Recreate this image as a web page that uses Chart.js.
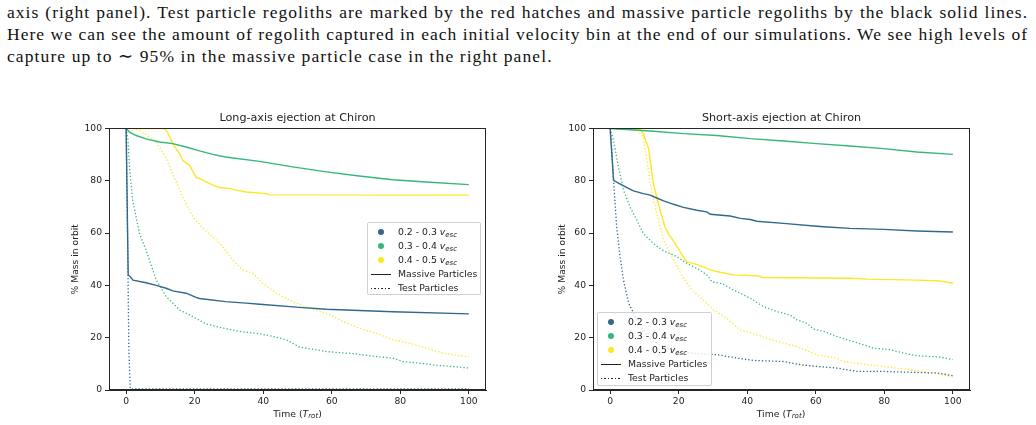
<!DOCTYPE html>
<html>
<head>
<meta charset="utf-8">
<script src="https://cdn.jsdelivr.net/npm/chart.js@4/dist/chart.umd.min.js"></script>
<style>
  html, body { margin: 0; padding: 0; background: #fff; }
  body { width: 1036px; height: 425px; position: relative; overflow: hidden; }
  .cap { position: absolute; left: 7px; width: 1021px; font-family: "Liberation Serif", serif; font-size: 17.5px; letter-spacing: 1.1px; line-height: 22px; color: #111; white-space: nowrap; }
  .just { text-align: justify; text-align-last: justify; white-space: normal; letter-spacing: 1.0px; }
  .panel { position: absolute; }
  .legend { position: absolute; box-sizing: border-box; border: 1px solid #d0d0d0; border-radius: 2px; background: rgba(255,255,255,0.8); font-family: "DejaVu Sans", sans-serif; font-size: 9.3px; color: #222; }
  .row { position: absolute; left: 0; height: 14px; width: 100%; }
  .dot { position: absolute; left: 9.5px; top: 3.7px; width: 6.6px; height: 6.6px; border-radius: 50%; }
  .ln { position: absolute; left: 3px; top: 6.5px; width: 20px; height: 1.4px; background: #222; }
  .ln.dotted { background: repeating-linear-gradient(to right, #222 0px, #222 1.4px, transparent 1.4px, transparent 3.5px); }
  .lt { position: absolute; left: 30px; top: 0; line-height: 14px; }
  sub { font-size: 0.75em; vertical-align: -0.25em; line-height: 0; }
  .xt { position: absolute; font-family: "DejaVu Sans", sans-serif; font-size: 9.3px; color: #222; transform: translate(-50%, -50%); white-space: nowrap; }
</style>
</head>
<body>
<div class="cap just" style="top:1px;">axis (right panel). Test particle regoliths are marked by the red hatches and massive particle regoliths by the black solid lines.</div>
<div class="cap just" style="top:23px;">Here we can see the amount of regolith captured in each initial velocity bin at the end of our simulations. We see high levels of</div>
<div class="cap" style="top:45px;">capture up to ∼ 95% in the massive particle case in the right panel.</div>

<div class="panel" style="left:60px; top:100px;"><canvas id="cLong" width="440" height="325"></canvas></div>
<div class="panel" style="left:544px; top:100px;"><canvas id="cShort" width="440" height="325"></canvas></div>

<div class="xt" style="left:297.5px; top:413px;">Time (<i>T</i><sub><i>rot</i></sub>)</div>
<div class="xt" style="left:781px; top:413px;">Time (<i>T</i><sub><i>rot</i></sub>)</div>

<div id="legLong" class="legend" style="left:367px; top:222px; width:114px; height:73px;"></div>
<div id="legShort" class="legend" style="left:597px; top:312px; width:115px; height:74px;"></div>

<script>
// ---------- tick labels ----------
const xTickValues = [0, 20, 40, 60, 80, 100];
const yTickValues = [0, 20, 40, 60, 80, 100];

// ---------- categories ----------
const binLabels = ['0.2 - 0.3', '0.3 - 0.4', '0.4 - 0.5'];
const binColors = ['#31688e', '#35b779', '#fde725'];
const styleLabels = ['Massive Particles', 'Test Particles'];

// ---------- Long-axis ejection ----------
const longBlueMassT = [0, 0.6, 1.2, 2, 5.8, 8.8, 11.7, 13.6, 17.5, 20.4, 21.4, 29, 35, 39, 50.6, 58.4, 68, 77.8, 100];
const longBlueMassY = [100, 44, 43.3, 42, 41, 40, 38.9, 37.9, 37, 35.4, 35, 33.8, 33.2, 32.8, 31.6, 30.9, 30.4, 29.9, 29.1];
const longBlueTestT = [0, 0.4, 0.8, 1.2, 2, 100];
const longBlueTestY = [100, 60, 15, 0.5, 0.4, 0.4];
const longGreenMassT = [0, 1, 2.9, 5.8, 9.7, 13.6, 17.5, 21.4, 25.3, 29, 38.9, 48.6, 58.4, 68, 77.8, 87.5, 100];
const longGreenMassY = [100, 98.6, 97.3, 96, 94.8, 94.2, 92.9, 91.4, 90.1, 89.1, 87.4, 85.3, 83.4, 81.8, 80.4, 79.5, 78.5];
const longGreenTestT = [0, 0.5, 1, 1.9, 3.9, 5.8, 8.8, 11.7, 15.6, 19.5, 23.3, 27.2, 33, 39, 43.8, 46.7, 50.6, 58.4, 66.1, 73, 77.8, 80.7, 87.5, 90.5, 95.3, 100];
const longGreenTestY = [100, 96, 85, 72.6, 59.8, 53.5, 42, 35.7, 30.6, 28, 25.3, 24, 22.4, 21.5, 20.2, 19.2, 16.4, 14.7, 13.9, 12.8, 12.2, 10.9, 10, 9.4, 9, 8.4];
const longYellowMassT = [0, 10.5, 11.7, 13.6, 15.6, 16.5, 18.5, 20.4, 22.4, 25.3, 27.2, 30.2, 32, 35, 40.9, 41.8, 100];
const longYellowMassY = [100, 100, 99.5, 94.2, 90.3, 87.8, 85.9, 81.4, 80.2, 78.3, 77.4, 77, 76.4, 75.7, 75.1, 74.6, 74.5];
const longYellowTestT = [0, 2, 3.9, 7.8, 9.7, 11.7, 13.6, 16.5, 19.5, 22.4, 25.3, 28.2, 31.1, 34, 37, 39.9, 43.8, 48.6, 53.5, 58.4, 63.2, 68, 73, 77.8, 82.7, 87.5, 92.4, 97.3, 100];
const longYellowTestY = [100, 100, 99.2, 96, 92.9, 88.4, 82.7, 73.8, 66.2, 61.8, 58.6, 54.8, 49.7, 45.9, 44.6, 40.8, 37, 33.8, 31.3, 29.4, 26.2, 23.6, 21.7, 19.2, 17.9, 16, 14.1, 13.1, 12.6];

// ---------- Short-axis ejection ----------
const shortBlueMassT = [0, 1, 1.9, 4.9, 6.8, 9.7, 11.7, 13.6, 15.6, 18.5, 21.4, 25.3, 28.2, 29.2, 35, 38, 40.9, 42.8, 50.6, 60.3, 62.3, 70, 79.8, 89.5, 100];
const shortBlueMassY = [100, 80.2, 79.5, 77.4, 76.1, 75.1, 74.5, 73.4, 72.3, 71, 69.8, 68.7, 68.1, 67.2, 66.5, 65.6, 65.2, 64.5, 63.7, 62.6, 62.4, 61.8, 61.4, 60.8, 60.4];
const shortBlueTestT = [0, 0.5, 1, 1.9, 2.9, 3.9, 5.4, 7.8, 11.7, 16.5, 23.3, 31.1, 37, 41.8, 50.6, 55.4, 60.3, 66.1, 72, 79.8, 89.5, 95.3, 100];
const shortBlueTestY = [100, 91.6, 80.2, 62.4, 51, 42, 33.2, 26.8, 19.2, 16, 14.1, 13.5, 12.2, 11.3, 10.9, 9.7, 9, 8.4, 7.1, 7.1, 6.7, 6.5, 5.5];
const shortGreenMassT = [0, 11.7, 21.4, 31.1, 40.9, 50.6, 60.3, 70, 79.8, 89.5, 100];
const shortGreenMassY = [100, 99, 98, 97.3, 96.1, 95.2, 94.2, 93.3, 92.3, 91, 90.1];
const shortGreenTestT = [0, 1, 2.4, 3.9, 5.8, 7.8, 9.7, 12.6, 15.6, 19.5, 22.4, 25.3, 28.2, 29.7, 33, 35, 37.9, 40.9, 44.7, 48.6, 52.5, 54.5, 57.4, 59.3, 62.3, 66.1, 70, 73.9, 76.8, 81.7, 85.6, 89.5, 96.3, 100];
const shortGreenTestY = [100, 95.4, 85.3, 76.4, 70, 64.9, 59.8, 56, 53.2, 51, 48.4, 46.5, 44, 41.4, 40.5, 38.9, 37, 35.1, 31.9, 30, 28.7, 26.8, 25.5, 23.3, 22.4, 20.5, 18.9, 17.3, 16, 15.4, 14.1, 13.1, 12.6, 11.6];
const shortYellowMassT = [0, 8.75, 9.7, 11.2, 12.6, 14.6, 16, 17, 19, 20.4, 22.4, 24.3, 27.2, 29.2, 32.1, 36, 42.8, 44.7, 70, 74.9, 89.5, 96.3, 100];
const shortYellowMassY = [100, 99.6, 98, 92.4, 79, 68.7, 62.4, 59.8, 56, 52.9, 49, 48.4, 47.1, 45.9, 45, 44, 43.7, 43, 42.7, 42.4, 42, 41.7, 40.8];
const shortYellowTestT = [0, 7.8, 9.7, 11.7, 13.6, 15.6, 18.5, 21.4, 24.3, 27.2, 30.2, 34, 37.9, 42.8, 48.6, 54.5, 60.3, 66.1, 68, 74.9, 79.8, 87.5, 94.4, 100];
const shortYellowTestY = [100, 99.5, 96.7, 79, 67.5, 57.3, 49.7, 42.7, 37.6, 34.4, 30.6, 27.4, 23, 21.1, 18.6, 16.6, 13.5, 12.2, 10.9, 9.7, 9, 7.8, 6.5, 5];

// ---------- helpers ----------
function pts(xs, ys) { return xs.map((x, i) => ({ x: x, y: ys[i] })); }
function ds(label, xs, ys, color, dotted) {
  return {
    label: label,
    data: pts(xs, ys),
    borderColor: color,
    backgroundColor: color,
    borderWidth: dotted ? 1.3 : 1.4,
    borderDash: dotted ? [1.3, 2.1] : [],
    borderCapStyle: 'butt',
    pointRadius: 0,
    pointHoverRadius: 0,
    tension: 0,
    fill: false
  };
}

const AX = '#262626';
const framePlugin = {
  id: 'frame',
  afterDraw(chart) {
    const { ctx, chartArea: a } = chart;
    ctx.save();
    ctx.strokeStyle = AX;
    ctx.lineWidth = 1;
    const l = Math.round(a.left) + 0.5, t = Math.round(a.top) + 0.5;
    const r = Math.round(a.right) - 0.5, b = Math.round(a.bottom) - 0.5;
    ctx.strokeRect(l, t, r - l, b - t);
    ctx.restore();
  }
};

function makePanel(id, title, datasets, yTitlePad) {
  return new Chart(document.getElementById(id), {
    type: 'line',
    data: { datasets: datasets },
    plugins: [framePlugin],
    options: {
      responsive: false,
      animation: false,
      events: [],
      layout: { padding: { top: 0, right: 14, left: 0, bottom: 0 } },
      plugins: {
        legend: { display: false },
        tooltip: { enabled: false },
        title: {
          display: true, text: title, color: '#222', fullSize: false,
          font: { family: 'DejaVu Sans', size: 11.2, weight: 'normal' },
          padding: { top: 11, bottom: 4 }
        }
      },
      scales: {
        x: {
          type: 'linear', min: -5, max: 105,
          afterBuildTicks: s => { s.ticks = xTickValues.map(v => ({ value: v })); },
          afterFit: s => { s.height = 35; },
          ticks: { color: '#222', font: { family: 'DejaVu Sans', size: 9.2 }, padding: 2, maxRotation: 0, autoSkip: false },
          grid: { drawOnChartArea: false, drawTicks: true, tickLength: 4, tickColor: AX, tickWidth: 1 },
          border: { display: true, color: AX, width: 1 }
        },
        y: {
          type: 'linear', min: 0, max: 100,
          afterBuildTicks: s => { s.ticks = yTickValues.map(v => ({ value: v })); },
          afterFit: s => { s.width = 49; },
          ticks: { color: '#222', font: { family: 'DejaVu Sans', size: 9.2 }, padding: 3 },
          grid: { drawOnChartArea: false, drawTicks: true, tickLength: 4, tickColor: AX, tickWidth: 1 },
          border: { display: true, color: AX, width: 1 },
          title: { display: true, text: '% Mass in orbit', color: '#222', font: { family: 'DejaVu Sans', size: 9.2 }, padding: { top: yTitlePad, bottom: 0 } }
        }
      }
    }
  });
}

makePanel('cLong', 'Long-axis ejection at Chiron', [
  ds(binLabels[0] + ' massive', longBlueMassT, longBlueMassY, binColors[0], false),
  ds(binLabels[0] + ' test', longBlueTestT, longBlueTestY, binColors[0], true),
  ds(binLabels[1] + ' massive', longGreenMassT, longGreenMassY, binColors[1], false),
  ds(binLabels[1] + ' test', longGreenTestT, longGreenTestY, binColors[1], true),
  ds(binLabels[2] + ' massive', longYellowMassT, longYellowMassY, binColors[2], false),
  ds(binLabels[2] + ' test', longYellowTestT, longYellowTestY, binColors[2], true)
], 10);

makePanel('cShort', 'Short-axis ejection at Chiron', [
  ds(binLabels[0] + ' massive', shortBlueMassT, shortBlueMassY, binColors[0], false),
  ds(binLabels[0] + ' test', shortBlueTestT, shortBlueTestY, binColors[0], true),
  ds(binLabels[1] + ' massive', shortGreenMassT, shortGreenMassY, binColors[1], false),
  ds(binLabels[1] + ' test', shortGreenTestT, shortGreenTestY, binColors[1], true),
  ds(binLabels[2] + ' massive', shortYellowMassT, shortYellowMassY, binColors[2], false),
  ds(binLabels[2] + ' test', shortYellowTestT, shortYellowTestY, binColors[2], true)
], 13);

function buildLegend(id) {
  const el = document.getElementById(id);
  let html = '';
  binLabels.forEach((lab, i) => {
    html += '<div class="row" style="top:' + (2 + i * 14) + 'px"><span class="dot" style="background:' + binColors[i] + '"></span>' +
            '<span class="lt">' + lab + ' <i>v</i><sub><i>esc</i></sub></span></div>';
  });
  styleLabels.forEach((lab, j) => {
    html += '<div class="row" style="top:' + (2 + (3 + j) * 14) + 'px"><span class="ln' + (j === 1 ? ' dotted' : '') + '"></span>' +
            '<span class="lt">' + lab + '</span></div>';
  });
  el.innerHTML = html;
}
buildLegend('legLong');
buildLegend('legShort');
</script>
</body>
</html>
